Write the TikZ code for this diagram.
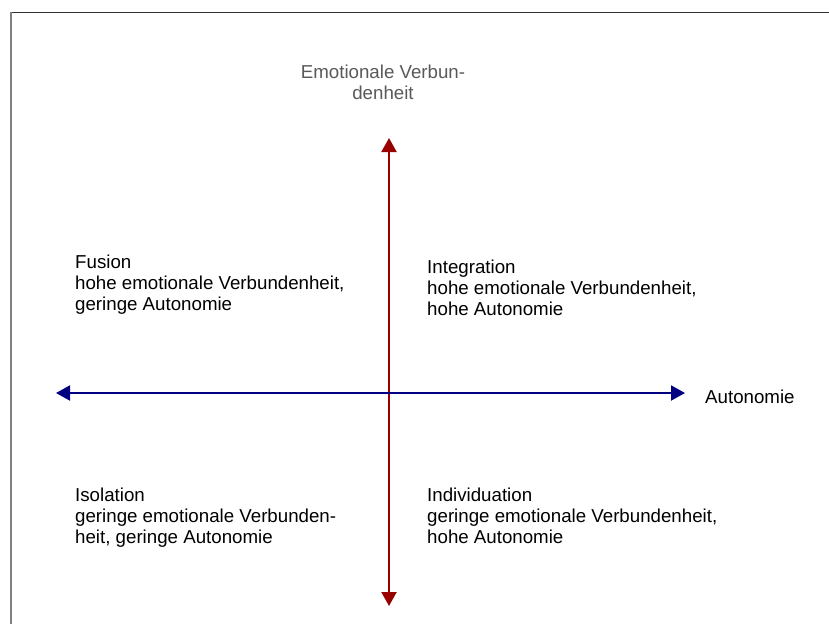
\documentclass[tikz,border=0pt]{standalone}
\usepackage{fontspec}
\setmainfont{Liberation Sans}
\usetikzlibrary{arrows.meta}
\definecolor{axred}{HTML}{990000}
\definecolor{axblue}{HTML}{000080}
\definecolor{labgray}{HTML}{595959}
\tikzset{
  lbl/.style={anchor=north west, inner sep=0pt, align=left, text=black,
    font=\fontsize{18.7}{21}\selectfont},
  axlbl/.style={anchor=north, inner sep=0pt, align=center, text=labgray,
    font=\fontsize{18.7}{21}\selectfont},
  axarrow/.style={line width=2pt, {Triangle[width=15pt,length=14pt]}-{Triangle[width=15pt,length=14pt]}}
}
\begin{document}
\begin{tikzpicture}[x=1pt,y=-1pt]
\useasboundingbox (0,0) rectangle (829,624);
% frame
\draw[color=black!80, line width=1pt] (11,12) -- (829,12);
\draw[color=black!50, line width=1.5pt] (11,12) -- (11,624);
% axis end points
\coordinate (vtop) at (389,138);
\coordinate (vbot) at (389,606);
\coordinate (hleft) at (56,393);
\coordinate (hright) at (685,393);
\draw[axarrow, axred] (vtop) -- (vbot);
\draw[axarrow, axblue] (hleft) -- (hright);
% labels
\node[axlbl] (ylab) at (383,65) {Emotionale Verbun-\\denheit};
\node[lbl, anchor=west] (xlab) at (705,397) {Autonomie};
\node[lbl] (fusion) at (75,255) {Fusion\\hohe emotionale Verbundenheit,\\geringe Autonomie};
\node[lbl] (integ) at (427,260) {Integration\\hohe emotionale Verbundenheit,\\hohe Autonomie};
\node[lbl] (isol) at (75,488) {Isolation\\geringe emotionale Verbunden-\\heit, geringe Autonomie};
\node[lbl] (indiv) at (427,488) {Individuation\\geringe emotionale Verbundenheit,\\hohe Autonomie};
\end{tikzpicture}
\end{document}
